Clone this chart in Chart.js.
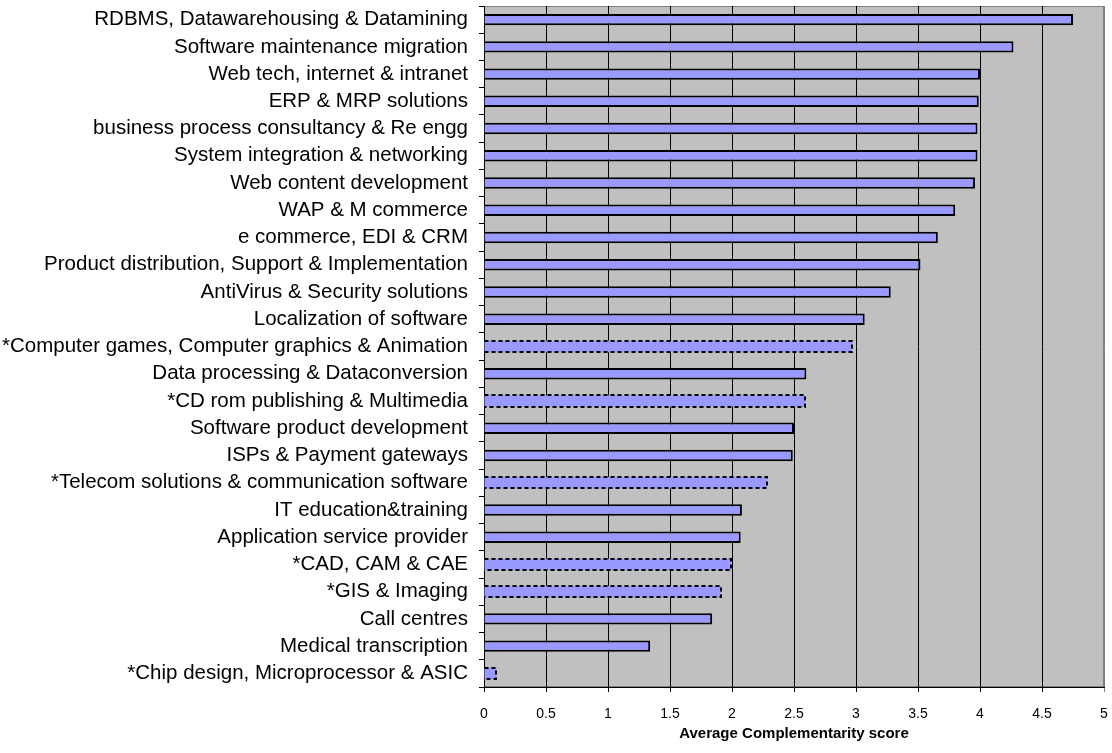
<!DOCTYPE html>
<html>
<head>
<meta charset="utf-8">
<title>Average Complementarity score</title>
<script src="https://cdn.jsdelivr.net/npm/chart.js@4/dist/chart.umd.min.js"></script>
<style>
  html, body { margin: 0; padding: 0; background: #ffffff; }
  #wrap { width: 1112px; height: 753px; }
</style>
</head>
<body>
<div id="wrap"><canvas id="chart" width="1112" height="753"></canvas></div>
<script>
// Service segments, top to bottom; a leading '*' marks segments drawn with a dashed outline
const categories = [
  'RDBMS, Datawarehousing & Datamining',
  'Software maintenance migration',
  'Web tech, internet & intranet',
  'ERP & MRP solutions',
  'business process consultancy & Re engg',
  'System integration & networking',
  'Web content development',
  'WAP & M commerce',
  'e commerce, EDI & CRM',
  'Product distribution, Support & Implementation',
  'AntiVirus & Security solutions',
  'Localization of software',
  '*Computer games, Computer graphics & Animation',
  'Data processing & Dataconversion',
  '*CD rom publishing & Multimedia',
  'Software product development',
  'ISPs & Payment gateways',
  '*Telecom solutions & communication software',
  'IT education&training',
  'Application service provider',
  '*CAD, CAM & CAE',
  '*GIS & Imaging',
  'Call centres',
  'Medical transcription',
  '*Chip design, Microprocessor & ASIC'
];

// Average complementarity score per segment
const scores = [
  4.75, 4.27, 4.00, 3.99, 3.98, 3.98, 3.96, 3.80, 3.66, 3.52,
  3.28, 3.07, 2.97, 2.60, 2.59, 2.50, 2.49, 2.28, 2.08, 2.07,
  1.99, 1.91, 1.84, 1.34, 0.10
];

const xTickLabels = ['0', '0.5', '1', '1.5', '2', '2.5', '3', '3.5', '4', '4.5', '5'];
const xTitle = 'Average Complementarity score';

const isDashed = categories.map(c => c.startsWith('*'));

const FONT = "'Liberation Sans', Arial, sans-serif";

// Grey plot background with a grey frame
const plotBackground = {
  id: 'plotBackground',
  beforeDraw(chart) {
    const { ctx, chartArea: a } = chart;
    ctx.save();
    ctx.fillStyle = '#c0c0c0';
    ctx.fillRect(a.left, a.top, a.right - a.left, a.bottom - a.top);
    ctx.strokeStyle = '#808080';
    ctx.lineWidth = 1;
    ctx.strokeRect(Math.round(a.left) + 0.5, Math.round(a.top) + 0.5,
                   Math.round(a.right - a.left) - 1, Math.round(a.bottom - a.top) - 1);
    ctx.restore();
  }
};

// Dashed outlines (top, end and bottom) for the starred segments
const dashedOutline = {
  id: 'dashedOutline',
  afterDatasetsDraw(chart) {
    const { ctx } = chart;
    const meta = chart.getDatasetMeta(0);
    ctx.save();
    ctx.strokeStyle = '#000000';
    ctx.lineWidth = 2;
    ctx.setLineDash([4, 3]);
    meta.data.forEach((bar, i) => {
      if (!isDashed[i]) return;
      const { x, y, base, height } = bar.getProps(['x', 'y', 'base', 'height'], true);
      const top = Math.round(y - height / 2);
      const bottom = Math.round(y + height / 2);
      const end = Math.round(x);
      ctx.beginPath();
      ctx.moveTo(base, top);
      ctx.lineTo(end, top);
      ctx.lineTo(end, bottom);
      ctx.lineTo(base, bottom);
      ctx.stroke();
    });
    ctx.restore();
  }
};

// Fixed axis boxes so the plot area spans the same region every time
function noScalePadding(scale) {
  scale.paddingLeft = 0;
  scale.paddingRight = 0;
  scale.paddingTop = 0;
  scale.paddingBottom = 0;
}

new Chart(document.getElementById('chart'), {
  type: 'bar',
  data: {
    labels: categories,
    datasets: [{
      data: scores,
      backgroundColor: '#9999ff',
      borderColor: '#000000',
      borderWidth: ctx => (isDashed[ctx.dataIndex] ? 0 : 2),
      borderSkipped: 'start',
      barPercentage: 0.42,
      categoryPercentage: 1.0
    }]
  },
  options: {
    indexAxis: 'y',
    responsive: false,
    animation: false,
    layout: { padding: { top: 6, right: 8, left: 0, bottom: 0 } },
    plugins: {
      legend: { display: false },
      tooltip: { enabled: false },
      title: { display: false }
    },
    scales: {
      x: {
        type: 'linear',
        min: 0,
        max: 5,
        ticks: {
          stepSize: 0.5,
          color: '#000000',
          font: { family: FONT, size: 14 },
          padding: 14,
          maxRotation: 0,
          callback: (v, i) => xTickLabels[i]
        },
        grid: {
          drawOnChartArea: true,
          color: ctx => (ctx.tick && ctx.tick.value === 5 ? '#808080' : '#000000'),
          lineWidth: 1,
          tickLength: 5
        },
        border: { display: true, color: '#000000', width: 1 },
        title: {
          display: true,
          text: xTitle,
          color: '#000000',
          font: { family: FONT, size: 15, weight: 'bold' },
          padding: { top: 0, bottom: 10 }
        },
        afterFit(scale) {
          scale.height = 66;
          noScalePadding(scale);
        }
      },
      y: {
        type: 'category',
        offset: true,
        ticks: {
          autoSkip: false,
          color: '#000000',
          font: { family: FONT, size: 20.5 },
          padding: 11
        },
        grid: {
          offset: true,
          drawOnChartArea: false,
          color: '#000000',
          lineWidth: 1,
          tickLength: 5
        },
        border: { display: true, color: '#000000', width: 1 },
        afterFit(scale) {
          scale.width = 484;
          noScalePadding(scale);
        }
      }
    }
  },
  plugins: [plotBackground, dashedOutline]
});
</script>
</body>
</html>
